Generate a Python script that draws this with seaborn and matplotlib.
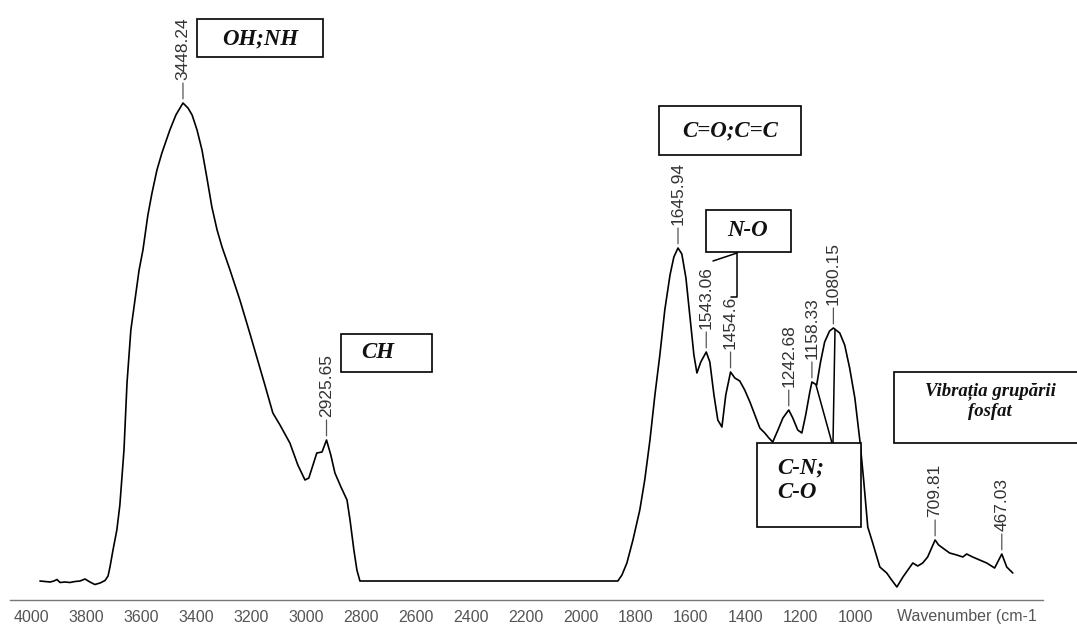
import numpy as np
import matplotlib
matplotlib.use("Agg")
import matplotlib.pyplot as plt
from matplotlib.patches import Rectangle
from matplotlib.lines import Line2D
import seaborn as sns
import pandas as pd

# ---------------- data ----------------
wavenumber = [3969, 3950, 3932, 3918, 3907, 3896, 3878, 3860, 3841, 3823, 3805, 3787,
              3769, 3750, 3732, 3721, 3714, 3703, 3689, 3678, 3663, 3652, 3638, 3623,
              3608, 3594, 3576, 3561, 3543, 3525, 3496, 3474, 3448.24, 3430, 3415, 3397,
              3379, 3361, 3343, 3324, 3306, 3277, 3241, 3204, 3168, 3150, 3121, 3095,
              3059, 3030, 3004, 2990, 2975, 2961, 2942, 2925.65, 2910, 2895, 2873, 2851,
              2840, 2826, 2815, 2804,
              1865, 1850, 1832, 1810, 1785, 1767, 1748, 1730, 1712, 1694, 1675, 1661,
              1645.94, 1632, 1617, 1603, 1588, 1577, 1563, 1543.06, 1530, 1515, 1501, 1486,
              1472, 1454.6, 1439, 1421, 1403, 1384, 1366, 1348, 1330, 1315, 1301, 1282,
              1264, 1242.68, 1228, 1210, 1195, 1181, 1166, 1158.33, 1141, 1127, 1112, 1094,
              1080.15, 1057, 1039, 1021, 1002, 984, 970, 955, 937, 911, 886, 868, 849,
              827, 809, 791, 773, 755, 737, 709.81, 697, 682, 657, 631, 609, 595, 573,
              547, 522, 493, 467.03, 449, 427]
absorbance = [0.038, 0.037, 0.036, 0.038, 0.041, 0.035, 0.036, 0.035, 0.037, 0.038, 0.042, 0.036,
              0.031, 0.034, 0.039, 0.048, 0.066, 0.100, 0.140, 0.190, 0.300, 0.434, 0.540, 0.600,
              0.660, 0.700, 0.770, 0.814, 0.860, 0.894, 0.940, 0.970, 0.994, 0.984, 0.970, 0.940,
              0.900, 0.844, 0.786, 0.740, 0.706, 0.660, 0.600, 0.532, 0.464, 0.430, 0.374, 0.350,
              0.314, 0.270, 0.240, 0.244, 0.270, 0.294, 0.296, 0.320, 0.290, 0.254, 0.226, 0.200,
              0.160, 0.100, 0.060, 0.038,
              0.038, 0.050, 0.074, 0.120, 0.180, 0.240, 0.320, 0.410, 0.490, 0.580, 0.650, 0.686,
              0.704, 0.692, 0.644, 0.570, 0.490, 0.454, 0.476, 0.496, 0.476, 0.410, 0.360, 0.346,
              0.410, 0.456, 0.444, 0.438, 0.420, 0.396, 0.370, 0.344, 0.334, 0.324, 0.316, 0.340,
              0.364, 0.380, 0.364, 0.340, 0.334, 0.370, 0.416, 0.436, 0.430, 0.476, 0.516, 0.538,
              0.544, 0.534, 0.510, 0.464, 0.404, 0.320, 0.240, 0.146, 0.114, 0.066, 0.054, 0.040, 0.026,
              0.046, 0.060, 0.074, 0.068, 0.074, 0.086, 0.120, 0.110, 0.104, 0.094, 0.090, 0.086, 0.092, 0.086,
              0.080, 0.074, 0.064, 0.092, 0.066, 0.054]

peak_positions = [3448.24, 2925.65, 1645.94, 1543.06, 1454.6, 1242.68, 1158.33, 1080.15, 709.81, 467.03]
peak_labels = ["3448.24", "2925.65", "1645.94", "1543.06", "1454.6", "1242.68", "1158.33", "1080.15", "709.81", "467.03"]

tick_values = [4000, 3800, 3600, 3400, 3200, 3000, 2800, 2600, 2400, 2200, 2000, 1800,
               1600, 1400, 1200, 1000, 800, 600, 400]
tick_labels = ["4000", "3800", "3600", "3400", "3200", "3000", "2800", "2600", "2400", "2200",
               "2000", "1800", "1600", "1400", "1200", "1000", "", "", ""]
axis_title = "Wavenumber (cm-1"

group_labels = ["OH;NH", "CH", "C=O;C=C", "N-O", "C-N;\nC-O", "Vibrația grupării\nfosfat"]

# ---------------- figure ----------------
sns.set_style("white")
plt.rcParams["font.family"] = ["Liberation Sans", "DejaVu Sans"]

W, H = 1077, 625
fig = plt.figure(figsize=(W / 100, H / 100), dpi=100)
ax = fig.add_axes([10 / W, 25 / H, 1033 / W, 600 / H])

df = pd.DataFrame({"wavenumber": wavenumber, "absorbance": absorbance})
sns.lineplot(data=df, x="wavenumber", y="absorbance", ax=ax, color="black",
             linewidth=1.2, estimator=None, sort=False)

ax.set_xlim(4078, 317)
ax.set_ylim(0, 1.2)
for s in ["left", "right", "top"]:
    ax.spines[s].set_visible(False)
ax.spines["bottom"].set_color("#777777")
ax.spines["bottom"].set_linewidth(1.0)
ax.set_yticks([])
ax.set_xticks(tick_values)
ax.set_xticklabels(tick_labels)
ax.set_xticks(np.arange(4060, 317, -20), minor=True)
ax.tick_params(axis="x", which="major", length=4, width=0.8, color="#777777",
               labelsize=11.5, labelcolor="#555555", pad=3, direction="out")
ax.tick_params(axis="x", which="minor", length=2.3, width=0.7, color="#777777", direction="out")
ax.set_xlabel("")
ax.set_ylabel("")
fig.text(897 / W, 1 - 617 / H, axis_title, fontsize=11.5, color="#555555",
         ha="left", va="center")

# ---------------- peak labels ----------------
peak_heights = np.interp(peak_positions, wavenumber[::-1], absorbance[::-1])
for pos, h, lab in zip(peak_positions, peak_heights, peak_labels):
    ax.annotate("", xy=(pos, h), xytext=(0, 20), textcoords="offset pixels",
                arrowprops=dict(arrowstyle="-", color="#555555", lw=0.9,
                                shrinkA=0, shrinkB=3))
    ax.annotate(lab, xy=(pos, h), xytext=(0, 23), textcoords="offset pixels",
                rotation=90, ha="center", va="bottom", fontsize=12.5, color="#333333")

# ---------------- group boxes (figure pixel layout) ----------------
def fx(x):
    return x / W

def fy(y):
    return 1 - y / H

def box(x0, y0, x1, y1):
    r = Rectangle((fx(x0), fy(y1)), fx(x1) - fx(x0), fy(y0) - fy(y1),
                  transform=fig.transFigure, facecolor="white", edgecolor="black",
                  linewidth=1.2, zorder=5)
    fig.add_artist(r)

def line(xs, ys):
    fig.add_artist(Line2D([fx(v) for v in xs], [fy(v) for v in ys],
                          transform=fig.transFigure, color="black", lw=1.1, zorder=4))

serif = ["Liberation Serif", "DejaVu Serif"]
tstyle = dict(family=serif, fontweight="bold", fontstyle="italic", color="#111111", zorder=6)

box(197, 19, 323, 57)
fig.text(fx(260), fy(39), group_labels[0], fontsize=16.5, ha="center", va="center", **tstyle)

box(341, 334, 432, 372)
fig.text(fx(378), fy(353), group_labels[1], fontsize=16.5, ha="center", va="center", **tstyle)

box(659, 106, 801, 155)
fig.text(fx(730), fy(131), group_labels[2], fontsize=16.5, ha="center", va="center", **tstyle)

box(706, 210, 791, 252)
fig.text(fx(748), fy(231), group_labels[3], fontsize=16.5, ha="center", va="center", **tstyle)
line([737, 713], [253, 261])
line([737, 737, 731], [253, 297, 297])

line([833, 835], [443, 330])
line([832, 816], [443, 385])
box(757, 443, 861, 527)
fig.text(fx(777), fy(480), group_labels[4], fontsize=16.5, ha="left", va="center",
         linespacing=1.25, **tstyle)

box(894, 372, 1090, 443)
fig.text(fx(990), fy(401), group_labels[5], fontsize=13.5, ha="center", va="center",
         linespacing=1.2, **tstyle)

fig.savefig("out.png", dpi=100)
